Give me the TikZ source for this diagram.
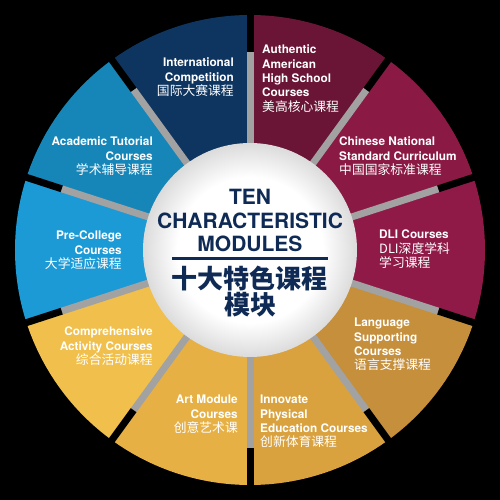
\documentclass[tikz,border=0pt]{standalone}
\usepackage{fontspec}
\setmainfont{TeX Gyre Heros}
\newfontfamily\cjk{Noto Sans CJK SC}
\newcommand\zhfont{\fontsize{12.8}{14.3}\selectfont\cjk\mdseries}
\usetikzlibrary{positioning}

\definecolor{navyseg}{HTML}{0E3560}
\definecolor{maroonA}{HTML}{6A1535}
\definecolor{maroonB}{HTML}{8A1A44}
\definecolor{maroonC}{HTML}{8F1A48}
\definecolor{ochreA}{HTML}{C58F3C}
\definecolor{ochreB}{HTML}{D9A23F}
\definecolor{goldA}{HTML}{E6B045}
\definecolor{goldB}{HTML}{F0BF4C}
\definecolor{blueA}{HTML}{1C9AD6}
\definecolor{blueB}{HTML}{1686B9}
\definecolor{spoke}{HTML}{A2A2A2}
\definecolor{titlenavy}{HTML}{0F2B55}
\pgfdeclareradialshading{hub}{\pgfpoint{0bp}{0bp}}{color(0bp)=(white); color(17bp)=(white); color(25bp)=(gray!28); color(50bp)=(gray!28)}

\begin{document}
\begin{tikzpicture}[x=1pt,y=1pt,
    lbl/.style={text=white,inner sep=0pt,font=\fontsize{11.8}{14.3}\selectfont\bfseries},
    title/.style={text=titlenavy,inner sep=0pt,font=\fontsize{21}{23}\selectfont\bfseries}]
        \fill[black] (-250,-250) rectangle (250,250);
        \useasboundingbox (-250,-250) rectangle (250,250);

        % ten sectors, clockwise from the top
        \fill[maroonA] (0,0) -- (90:235) arc (90:54:235) -- cycle;
        \fill[maroonB] (0,0) -- (54:235) arc (54:18:235) -- cycle;
        \fill[maroonC] (0,0) -- (18:235) arc (18:-18:235) -- cycle;
        \fill[ochreA] (0,0) -- (-18:235) arc (-18:-54:235) -- cycle;
        \fill[ochreB] (0,0) -- (-54:235) arc (-54:-90:235) -- cycle;
        \fill[goldA] (0,0) -- (-90:235) arc (-90:-126:235) -- cycle;
        \fill[goldB] (0,0) -- (-126:235) arc (-126:-162:235) -- cycle;
        \fill[blueA] (0,0) -- (-162:235) arc (-162:-198:235) -- cycle;
        \fill[blueB] (0,0) -- (162:235) arc (162:126:235) -- cycle;
        \fill[navyseg] (0,0) -- (126:235) arc (126:90:235) -- cycle;

        % spokes
        \draw[spoke,line width=7pt] (90:100) -- (90:198);
        \draw[spoke,line width=7pt] (54:100) -- (54:198);
        \draw[spoke,line width=7pt] (18:100) -- (18:198);
        \draw[spoke,line width=7pt] (-18:100) -- (-18:198);
        \draw[spoke,line width=7pt] (-54:100) -- (-54:198);
        \draw[spoke,line width=7pt] (-90:100) -- (-90:198);
        \draw[spoke,line width=7pt] (-126:100) -- (-126:198);
        \draw[spoke,line width=7pt] (-162:100) -- (-162:198);
        \draw[spoke,line width=7pt] (162:100) -- (162:198);
        \draw[spoke,line width=7pt] (126:100) -- (126:198);
        \draw[black,line width=7pt] (90:198) -- (90:240);
        \draw[black,line width=7pt] (54:198) -- (54:240);
        \draw[black,line width=7pt] (18:198) -- (18:240);
        \draw[black,line width=7pt] (-18:198) -- (-18:240);
        \draw[black,line width=7pt] (-54:198) -- (-54:240);
        \draw[black,line width=7pt] (-90:198) -- (-90:240);
        \draw[black,line width=7pt] (-126:198) -- (-126:240);
        \draw[black,line width=7pt] (-162:198) -- (-162:240);
        \draw[black,line width=7pt] (162:198) -- (162:240);
        \draw[black,line width=7pt] (126:198) -- (126:240);

        % hub
        \shade[shading=hub] (0,0) circle (107);
        \node[title] (ten) at (0,53) {TEN};
        \node[title] (charac) at (0,29) {CHARACTERISTIC};
        \node[title] (modules) at (0,6) {MODULES};
        \coordinate (ruleL) at (-78,-9);
        \coordinate (ruleR) at (78,-9);
        \draw[titlenavy,line width=3pt] (ruleL) -- (ruleR);
        \node[title,font=\fontsize{26}{27}\selectfont\cjk\bfseries] (tenzh) at (0,-28) {十大特色课程};
        \node[title,font=\fontsize{26}{27}\selectfont\cjk\bfseries] (modzh) at (0,-55) {模块};

        % sector labels
        \node[lbl,align=right,anchor=north east] (intl) at (-16,192)
            {International\\Competition\\{\zhfont 国际大赛课程}};
        \node[lbl,align=left,anchor=north west] (amer) at (12,205)
            {Authentic\\American\\High School\\Courses\\{\zhfont 美高核心课程}};
        \node[lbl,align=left,anchor=north west] (natl) at (89,113)
            {Chinese National\\Standard Curriculum\\{\zhfont 中国国家标准课程}};
        \node[lbl,align=left,anchor=north west] (dli) at (129,20)
            {DLI Courses\\{\zhfont DLI深度学科}\\{\zhfont 学习课程}};
        \node[lbl,align=left,anchor=north west] (lang) at (104,-68)
            {Language\\Supporting\\Courses\\{\zhfont 语言支撑课程}};
        \node[lbl,align=left,anchor=north west] (phys) at (10,-145)
            {Innovate\\Physical\\Education Courses\\{\zhfont 创新体育课程}};
        \node[lbl,align=right,anchor=north east] (art) at (-12,-145)
            {Art Module\\Courses\\{\zhfont 创意艺术课}};
        \node[lbl,align=right,anchor=north east] (comp) at (-97,-77)
            {Comprehensive\\Activity Courses\\{\zhfont 综合活动课程}};
        \node[lbl,align=right,anchor=north east] (pre) at (-128,19)
            {Pre-College\\Courses\\{\zhfont 大学适应课程}};
        \node[lbl,align=right,anchor=north east] (tut) at (-97,113)
            {Academic Tutorial\\Courses\\{\zhfont 学术辅导课程}};
    \end{tikzpicture}
\end{document}
